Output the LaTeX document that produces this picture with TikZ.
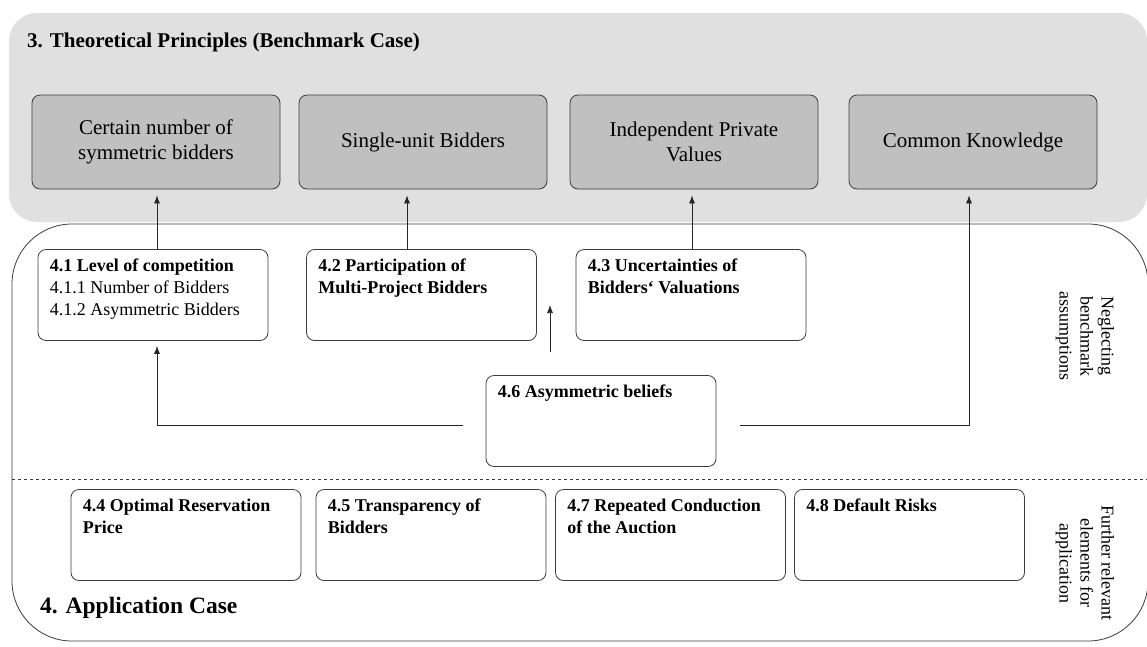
\documentclass[tikz,border=0pt]{standalone}
\usepackage{fontspec}
\setmainfont{Liberation Serif}
\usetikzlibrary{arrows.meta,calc}
\definecolor{bggray}{RGB}{224,224,224}
\definecolor{boxgray}{RGB}{192,192,192}
\definecolor{edge}{RGB}{60,60,60}
\begin{document}
\begin{tikzpicture}[x=1pt,y=-1pt,
  principle/.style={draw=edge, fill=boxgray, rounded corners=8pt, minimum width=248pt, minimum height=94pt, align=center, inner sep=0pt, font=\fontsize{21}{25}\selectfont, line width=0.8pt},
  elem/.style={draw=edge, fill=white, rounded corners=8pt, minimum width=230pt, minimum height=91pt, inner sep=0pt, line width=0.8pt},
  elemtext/.style={anchor=north west, inner sep=0pt, align=left, xshift=12pt, yshift=-10pt, font=\fontsize{18}{22}\selectfont},
  arr/.style={-{Latex[length=8pt,width=6pt]}, line width=0.7pt, draw=black!85},
  side/.style={rotate=-90, align=center, inner sep=0pt, font=\fontsize{18}{21}\selectfont}
]
\useasboundingbox (0,0) rectangle (1147,646);
% background regions
\fill[bggray, rounded corners=28pt] (9,13) rectangle (1147,222);
\draw[edge, line width=0.8pt, fill=white, rounded corners=60pt] (12,224) rectangle (1148,641);
\draw[edge, dashed, line width=0.8pt] (12,479) -- (1147,479);

% titles
\node[anchor=west, inner sep=0pt, font=\fontsize{21}{24}\selectfont\bfseries] (t3) at (27,42) {3. Theoretical Principles (Benchmark Case)};
\node[anchor=west, inner sep=0pt, font=\fontsize{23.5}{26}\selectfont\bfseries] (t4) at (40,608) {4. Application Case};

% principles
\node[principle] (p1) at (156,142) {Certain number of\\symmetric bidders};
\node[principle] (p2) at (423,142) {Single-unit Bidders};
\node[principle] (p3) at (694,142) {Independent Private\\Values};
\node[principle] (p4) at (973,142) {Common Knowledge};

% elements
\node[elem, label={[elemtext]north west:{\textbf{4.1 Level of competition}\\4.1.1 Number of Bidders\\4.1.2 Asymmetric Bidders}}] (b41) at (153,295) {};
\node[elem, label={[elemtext]north west:{\textbf{4.2 Participation of}\\\textbf{Multi-Project Bidders}}}] (b42) at (421.5,295) {};
\node[elem, label={[elemtext]north west:{\textbf{4.3 Uncertainties of}\\\textbf{Bidders‘ Valuations}}}] (b43) at (691,295) {};
\node[elem, label={[elemtext]north west:{\textbf{4.6 Asymmetric beliefs}}}] (b46) at (601,421) {};
\node[elem, label={[elemtext]north west:{\textbf{4.4 Optimal Reservation}\\\textbf{Price}}}] (b44) at (186,535) {};
\node[elem, label={[elemtext]north west:{\textbf{4.5 Transparency of}\\\textbf{Bidders}}}] (b45) at (431,535) {};
\node[elem, label={[elemtext]north west:{\textbf{4.7 Repeated Conduction}\\\textbf{of the Auction}}}] (b47) at (670.5,535) {};
\node[elem, label={[elemtext]north west:{\textbf{4.8 Default Risks}}}] (b48) at (909.5,535) {};

% side labels
\node[side] (s1) at (1085,336) {Neglecting\\benchmark\\assumptions};
\node[side] (s2) at (1085,563) {Further relevant\\elements for\\application};

% connectors
\coordinate (x1) at (157,0);
\coordinate (x2) at (407,0);
\coordinate (x3) at (692,0);
\coordinate (x4) at (969,0);
\draw[arr, shorten >=6pt] (x1 |- b41.north) -- (x1 |- p1.south);
\draw[arr, shorten >=6pt] (x2 |- b42.north) -- (x2 |- p2.south);
\draw[arr, shorten >=6pt] (x3 |- b43.north) -- (x3 |- p3.south);

\coordinate (l46) at (463,425);
\coordinate (r46) at (740,425);
\draw[arr, shorten >=5pt] (l46) -- (x1 |- l46) -- (x1 |- b41.south);
\draw[arr, shorten >=6pt] (r46) -- (x4 |- r46) -- (x4 |- p4.south);

\coordinate (m0) at (550,352);
\coordinate (m1) at (550,305);
\draw[arr] (m0) -- (m1);
\end{tikzpicture}
\end{document}
